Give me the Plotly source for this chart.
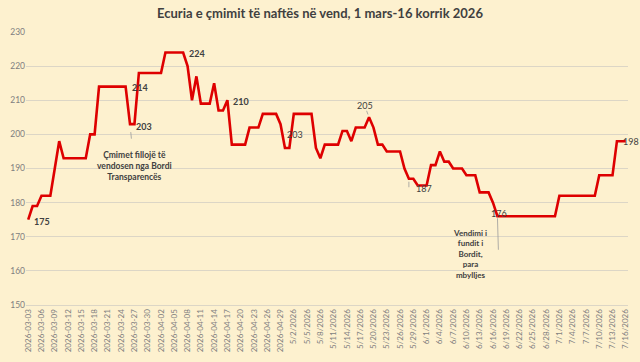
import plotly.graph_objects as go
import pandas as pd

# ---- data ----
dates = pd.date_range("2026-03-03", "2026-07-16", freq="D")
categories = [d.strftime("%Y-%m-%d") if d < pd.Timestamp("2026-05-01")
              else f"{d.month}/{d.day}/{d.year}" for d in dates]

prices = [
    175, 179, 179, 182, 182, 182, 190, 198, 193, 193,
    193, 193, 193, 193, 200, 200, 214, 214, 214, 214,
    214, 214, 214, 203, 203, 218, 218, 218, 218, 218,
    218, 224, 224, 224, 224, 224, 220, 210, 217, 209,
    209, 209, 215, 207, 207, 210, 197, 197, 197, 197,
    202, 202, 202, 206, 206, 206, 206, 203, 196, 196,
    206, 206, 206, 206, 206, 196, 193, 197, 197, 197,
    197, 201, 201, 198, 202, 202, 202, 205, 202, 197,
    197, 195, 195, 195, 195, 190, 187, 187, 185, 185,
    185, 191, 191, 195, 192, 192, 190, 190, 190, 188,
    188, 188, 183, 183, 183, 180,
    176, 176, 176, 176, 176, 176, 176, 176, 176, 176, 176, 176, 176, 176,
    182, 182, 182, 182, 182, 182, 182, 182, 182,
    188, 188, 188, 188,
    198, 198, 198,
]

tickvals = categories[::3]

title_text = "Ecuria e çmimit të naftës në vend, 1 mars-16 korrik 2026"

# labelled points: (day index, text, xshift, yshift, bold)
point_labels = [
    (0, "175", 14, -2, True),
    (22, "214", 14, -1, True),
    (24, "203", 10, -2, True),
    (35, "224", 14, -1, True),
    (45, "210", 14, -1, True),
    (57, "203", 14, -10, False),
    (77, "205", -4, 12, False),
    (86, "187", 15, -10, False),
    (106, "176", 2, 3, False),
    (135, "198", 5, 0, False),
]

FONT = "Lato"
TXT = "#404040"
GRID = "#DCD6C6"
BG = "#FDF1CF"

fig = go.Figure()
fig.add_trace(go.Scatter(
    x=categories, y=prices, mode="lines",
    line=dict(color="#DE0000", width=2.6),
    hoverinfo="skip", showlegend=False,
))

annotations = []
for idx, txt, xs, ys, bold in point_labels:
    annotations.append(dict(
        x=categories[idx], y=prices[idx], xref="x", yref="y",
        text=f"<b>{txt}</b>" if bold else txt, showarrow=False,
        xshift=xs, yshift=ys,
        font=dict(family=FONT, size=9, color=TXT),
    ))

# short leader lines for two labels
annotations.append(dict(
    x=categories[86], y=prices[86], xref="x", yref="y",
    ax=0, ay=10, text="", showarrow=True, arrowhead=0,
    arrowwidth=0.8, arrowcolor="#9A9A9A", standoff=3,
))
annotations.append(dict(
    x=categories[77], y=prices[77], xref="x", yref="y",
    ax=-3, ay=-8, text="", showarrow=True, arrowhead=0,
    arrowwidth=0.8, arrowcolor="#9A9A9A", standoff=3,
))

# text notes
annotations.append(dict(
    x=categories[23], y=prices[23], xref="x", yref="y",
    ax=4, ay=42, axref="pixel", ayref="pixel",
    text="<b>Çmimet fillojë të<br>vendosen nga Bordi<br>Transparencës</b>",
    showarrow=True, arrowhead=0, arrowwidth=0.8, arrowcolor="#9A9A9A",
    standoff=8, startstandoff=10, align="center",
    font=dict(family=FONT, size=8.5, color=TXT),
))
annotations.append(dict(
    x=categories[106], y=prices[106], xref="x", yref="y",
    text="<b>Vendimi i<br>fundit i<br>Bordit,<br>para<br>mbylljes</b>",
    showarrow=False, align="center", xshift=-27, yshift=-38,
    font=dict(family=FONT, size=8, color=TXT),
))
annotations.append(dict(
    x=categories[106], y=prices[106], xref="x", yref="y",
    ax=1, ay=35, text="", showarrow=True, arrowhead=0,
    arrowwidth=0.8, arrowcolor="#9A9A9A", standoff=2,
))

fig.update_layout(
    width=640, height=362,
    margin=dict(l=25, r=10, t=32, b=48),
    paper_bgcolor=BG, plot_bgcolor=BG,
    title=dict(text=f"<b>{title_text}</b>", x=0.5, xanchor="center",
               y=0.962, yanchor="middle",
               font=dict(family=FONT, size=13, color=TXT)),
    xaxis=dict(
        type="category", range=[-0.5, len(categories) - 0.5],
        tickmode="array", tickvals=tickvals, tickangle=-90,
        tickfont=dict(family=FONT, size=8, color="#7F7F7F"),
        showgrid=False, showline=True, linecolor=GRID, linewidth=1,
        ticks="", zeroline=False,
    ),
    yaxis=dict(
        range=[150, 230], dtick=10, tick0=150,
        gridcolor=GRID, gridwidth=1, zeroline=False, showline=False,
        tickfont=dict(family=FONT, size=8.5, color="#7F7F7F"),
        ticks="",
    ),
    annotations=annotations,
)

fig.write_html("out.html")
